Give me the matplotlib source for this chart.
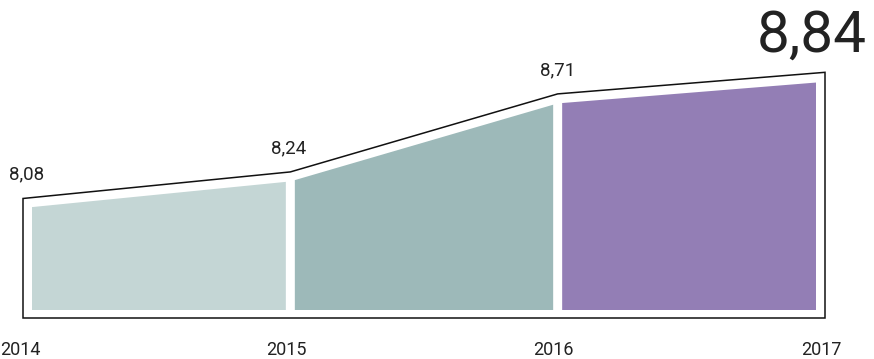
import matplotlib
matplotlib.use("Agg")
import matplotlib.pyplot as plt
from matplotlib.patches import Polygon
import numpy as np

years = [2014, 2015, 2016, 2017]
values = [8.08, 8.24, 8.71, 8.84]
labels = ["8,08", "8,24", "8,71", "8,84"]
seg_colors = ["#c4d6d5", "#9db9b9", "#937eb5"]
baseline = 7.36

W, H = 874, 359
fig = plt.figure(figsize=(W / 100, H / 100), dpi=100)
ax = fig.add_axes([0, 0, 1, 1])
ax.axis("off")

# pixel mapping
px_left, px_right = 23, 825
ppy = (px_right - px_left) / (years[-1] - years[0])  # px per year
ppu = 166.0  # px per unit
base_px_from_bottom = H - 318
ax.set_xlim(years[0] - px_left / ppy, years[0] + (W - px_left) / ppy)
ax.set_ylim(baseline - base_px_from_bottom / ppu, baseline + (H - base_px_from_bottom) / ppu)

font = ["Roboto", "DejaVu Sans"]

# outline
outline = [(years[0], baseline)] + list(zip(years, values)) + [(years[-1], baseline)]
ax.add_patch(Polygon(outline, closed=True, fill=False, edgecolor="#111111", lw=1.1, joinstyle="miter"))

# inset fills
dx = 9.0 / ppy
gap = 4.5 / ppy
dy_top = 9.5 / ppu
dy_bot = 8.0 / ppu
for i in range(3):
    x0 = years[i] + (dx if i == 0 else gap)
    x1 = years[i + 1] - (dx if i == 2 else gap)
    t0 = np.interp(x0, years, values) - dy_top
    t1 = np.interp(x1, years, values) - dy_top
    b = baseline + dy_bot
    ax.add_patch(Polygon([(x0, b), (x0, t0), (x1, t1), (x1, b)], closed=True,
                         facecolor=seg_colors[i], edgecolor="none"))

# value labels
val_dx = [3.5, -2, 0]
for i, (x, v, lab) in enumerate(zip(years, values, labels)):
    if i < 3:
        ax.annotate(lab, (x, v), xytext=(val_dx[i], 19), textcoords="offset pixels",
                    ha="center", va="baseline", fontsize=13.5, color="#222222", family=font)
    else:
        ax.annotate(lab, (x, v), xytext=(42, 21), textcoords="offset pixels",
                    ha="right", va="baseline", fontsize=42, fontweight="normal",
                    color="#222222", family=font)

# year labels
for i, x in enumerate(years):
    if i == 0:
        ax.annotate(str(x), (x, baseline), xytext=(-23, -37), textcoords="offset pixels",
                    ha="left", va="baseline", fontsize=13, color="#222222", family=font)
    else:
        ax.annotate(str(x), (x, baseline), xytext=(-4, -37), textcoords="offset pixels",
                    ha="center", va="baseline", fontsize=13, color="#222222", family=font)

fig.savefig("out.png", dpi=100, facecolor="white")
